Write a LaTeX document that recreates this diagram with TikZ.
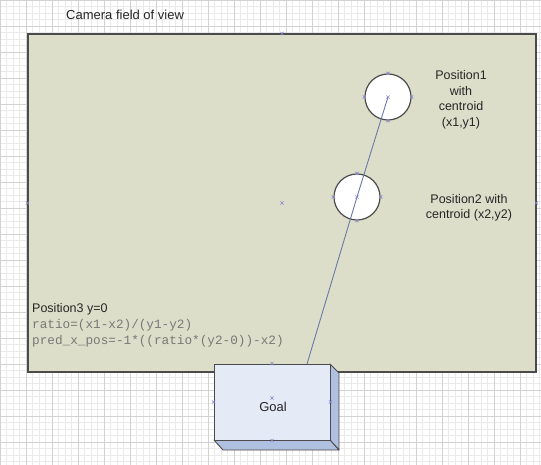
\documentclass[tikz,border=0pt]{standalone}
\usepackage{fontspec}
\setmainfont{Liberation Sans}
\newfontfamily\codefont{Liberation Mono}
\definecolor{fov}{RGB}{220,222,201}
\definecolor{edge}{RGB}{75,75,75}
\definecolor{goalfront}{RGB}{228,235,247}
\definecolor{goalside}{RGB}{176,192,224}
\definecolor{ray}{RGB}{105,122,170}
\definecolor{mark}{RGB}{135,135,205}
\definecolor{codegray}{RGB}{120,120,120}
\definecolor{gridminor}{RGB}{234,234,234}
\definecolor{gridmajor}{RGB}{210,210,210}
\tikzset{
  lbl/.style={font=\fontsize{12.5}{15.5}\selectfont, text=black!85, align=center, inner sep=0pt},
  codetxt/.style={font=\codefont\fontsize{12.7}{16}\selectfont, text=codegray, anchor=west, inner sep=0pt},
  ball/.style={circle, draw=edge, line width=1.2pt, fill=white, minimum size=46pt, inner sep=0pt},
  pmark/.style={draw=mark, line width=0.6pt},
}
\newcommand{\xmark}[1]{\draw[pmark] ($(#1)+(-1.6,-1.6)$) -- ($(#1)+(1.6,1.6)$) ($(#1)+(-1.6,1.6)$) -- ($(#1)+(1.6,-1.6)$);}
\usetikzlibrary{calc}
\begin{document}
\begin{tikzpicture}[x=1pt,y=-1pt]
\useasboundingbox (0,0) rectangle (541,465);
\fill[white] (0,0) rectangle (541,465);
% grid
\draw[gridminor, line width=0.4pt] (0,0) grid[step=6.5pt] (541,465);
\draw[gridmajor, line width=0.5pt] (0,0) grid[step=26pt] (541,465);
% field of view
\node[draw=edge, line width=1.1pt, fill=fov, minimum width=508pt, minimum height=338pt, inner sep=0pt] (fov) at (282,203) {};
\node[lbl, anchor=west, font=\fontsize{13}{15.5}\selectfont] (title) at (66,15) {Camera field of view};
% goal box
\fill[goalside, draw=edge, line width=0.9pt, line join=round] (330,364) -- (339,373) -- (339,450) -- (330,440) -- cycle;
\fill[goalside, draw=edge, line width=0.9pt, line join=round] (214,440) -- (330,440) -- (339,450) -- (223,450) -- cycle;
\node[draw=edge, line width=0.9pt, fill=goalfront, minimum width=116pt, minimum height=76pt, inner sep=0pt] (goal) at (272,402) {};
\node[lbl, font=\fontsize{13}{15.5}\selectfont] (goaltxt) at (273,407) {Goal};
\coordinate (gt) at (307,364);
% balls
\node[ball] (c1) at (388,97) {};
\node[ball] (c2) at (357,197) {};
\draw[ray, line width=0.9pt] (c1.center) -- (c2.center) -- (gt);
% labels
\node[lbl] (p1) at (461,100) {Position1\\with\\centroid\\(x1,y1)};
\node[lbl] (p2) at (469,208) {Position2 with\\centroid (x2,y2)};
\node[lbl, anchor=west] (p3) at (32,309) {Position3 y=0};
\node[codetxt] (r1) at (32,325) {ratio=(x1-x2)/(y1-y2)};
\node[codetxt] (r2) at (32,341) {pred\_x\_pos=-1*((ratio*(y2-0))-x2)};
% connection markers
\xmark{fov.center}
\xmark{fov.north}
\xmark{fov.west}
\xmark{fov.east}
\xmark{c1.center}
\xmark{c1.north}
\xmark{c1.south}
\xmark{c1.west}
\xmark{c1.east}
\xmark{c2.center}
\xmark{c2.north}
\xmark{c2.south}
\xmark{c2.west}
\xmark{c2.east}
\xmark{goal.north}
\xmark{goal.south}
\xmark{goal.west}
\xmark{goal.east}
\xmark{$(goal.center)+(0,-4)$}
\end{tikzpicture}
\end{document}
